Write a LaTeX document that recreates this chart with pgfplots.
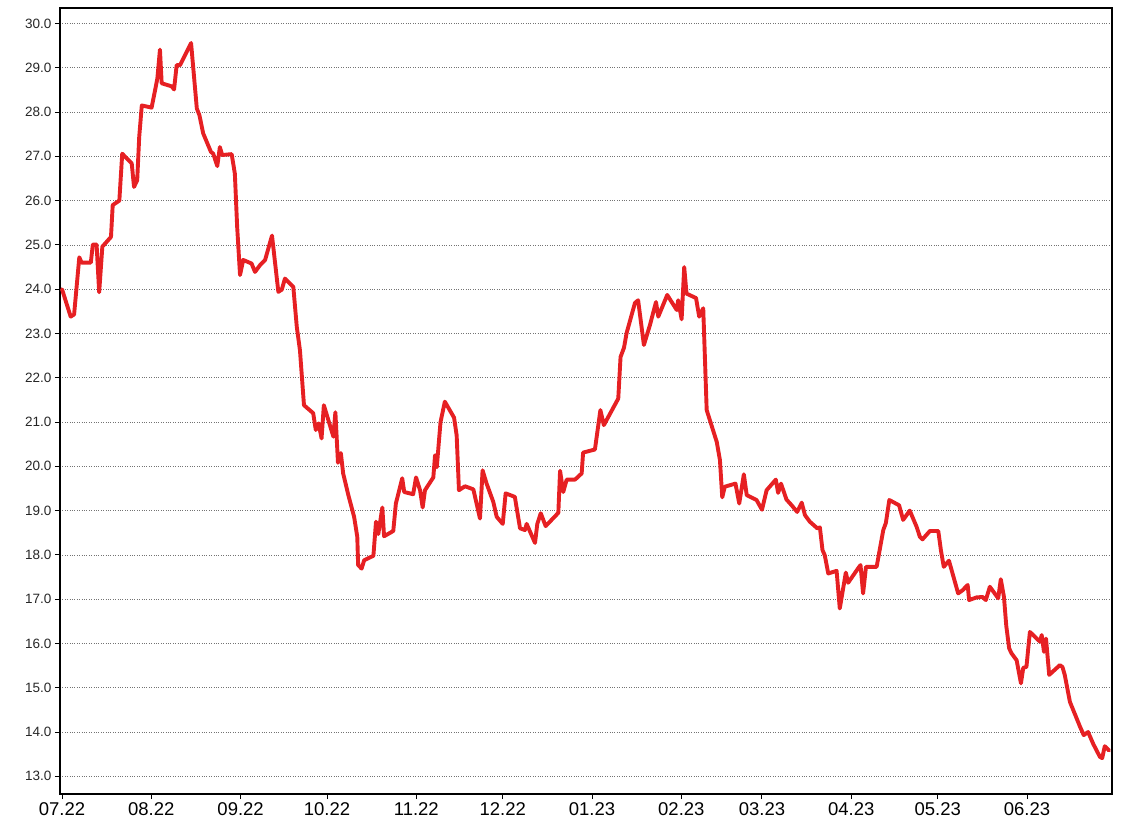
\documentclass[border=0pt]{standalone}
\usepackage{fontspec}
\setmainfont{Liberation Sans}
\usepackage{pgfplots}
\usepackage{pgfplotstable}
\pgfplotsset{compat=1.18}
\definecolor{linered}{RGB}{230,32,35}
\pgfplotstableread{
day val
0 24.00
3.0 23.38
4.2 23.43
6.0 24.72
6.8 24.60
10.0 24.60
10.7 25.01
12.0 25.01
12.9 23.93
14.0 24.96
17.0 25.18
17.6 25.90
19.9 26.00
20.9 27.06
24.2 26.84
25.0 26.31
26.1 26.46
26.8 27.44
27.7 28.15
31.1 28.10
32.3 28.49
33.1 28.76
34.0 29.41
34.6 28.65
38.1 28.58
38.9 28.51
39.8 29.06
41.0 29.06
44.8 29.56
46.8 28.08
47.7 27.93
49.0 27.52
51.7 27.10
52.5 27.06
53.9 26.78
54.8 27.21
55.6 27.03
58.9 27.05
60.0 26.61
60.8 25.41
61.8 24.32
62.9 24.66
65.8 24.58
67.0 24.39
68.7 24.54
70.5 24.66
72.9 25.21
75.1 23.94
76.3 23.99
77.4 24.24
80.3 24.05
81.5 23.15
82.6 22.62
84.0 21.38
87.2 21.20
88.1 20.82
89.1 20.97
90.1 20.63
90.9 21.38
94.2 20.67
94.9 21.22
95.8 20.08
96.8 20.30
97.6 19.84
99.4 19.35
101.4 18.86
102.5 18.41
102.8 17.77
104.0 17.69
104.9 17.88
108.1 17.98
109.0 18.75
109.8 18.47
111.2 19.07
111.8 18.42
115.0 18.54
115.9 19.16
118.1 19.73
118.8 19.42
121.9 19.37
122.9 19.75
124.3 19.46
125.2 19.07
126.0 19.46
128.9 19.75
129.5 20.25
130.1 19.98
131.4 21.00
132.9 21.46
136.1 21.10
137.0 20.70
137.8 19.46
139.9 19.55
142.8 19.48
145.1 18.82
146.0 19.91
147.4 19.61
149.7 19.20
150.9 18.86
153.0 18.70
154.0 19.39
157.2 19.31
159.0 18.60
160.7 18.56
161.3 18.70
164.2 18.27
165.0 18.70
166.2 18.94
167.9 18.65
172.3 18.95
172.9 19.90
174.0 19.42
175.2 19.70
178.1 19.70
180.4 19.84
180.9 20.31
185.0 20.38
186.9 21.27
188.1 20.93
193.1 21.53
193.9 22.47
195.1 22.68
196.0 23.01
198.9 23.69
200.0 23.75
202.0 22.74
204.1 23.19
206.2 23.71
207.0 23.38
210.1 23.87
213.4 23.53
213.9 23.75
215.1 23.32
216.0 24.50
216.8 23.90
220.1 23.80
221.2 23.38
222.6 23.57
223.8 21.27
227.3 20.55
228.4 20.14
229.2 19.30
230.1 19.54
233.8 19.61
235.1 19.16
236.7 19.82
237.7 19.35
241.1 19.24
243.0 19.02
244.6 19.46
247.8 19.70
248.6 19.40
249.6 19.61
251.5 19.25
253.3 19.12
255.2 18.97
256.8 19.18
257.9 18.90
259.6 18.75
262.2 18.60
263.1 18.62
264.0 18.11
264.8 17.99
266.0 17.58
268.9 17.64
270.0 16.79
272.1 17.60
272.9 17.37
276.4 17.70
277.2 17.77
278.1 17.13
279.1 17.73
282.8 17.73
285.1 18.56
286.0 18.72
287.2 19.24
290.6 19.12
292.0 18.79
294.3 19.00
296.7 18.63
297.8 18.41
298.7 18.35
301.3 18.54
304.2 18.54
305.1 18.11
306.1 17.73
307.9 17.87
311.1 17.13
312.6 17.20
314.4 17.32
314.9 16.98
317.5 17.04
319.6 17.05
320.7 16.98
322.1 17.28
325.0 17.02
325.9 17.45
327.0 17.05
327.8 16.40
328.8 15.89
329.6 15.78
331.4 15.62
332.9 15.10
333.7 15.45
334.8 15.47
336.0 16.26
339.5 16.04
340.1 16.19
340.9 15.81
341.6 16.11
342.7 15.29
346.4 15.51
347.3 15.47
348.1 15.29
349.9 14.68
353.4 14.12
354.7 13.93
356.2 14.00
358.0 13.73
360.3 13.44
361.1 13.41
362.0 13.68
363.5 13.58
}\pricedata
\begin{document}
\begin{tikzpicture}
\path[use as bounding box] (0,0) rectangle (1128pt,-836pt);
\begin{axis}[
  at={(60pt,-8pt)}, anchor=north west,
  scale only axis, width=1052pt, height=786pt,
  xmin=-0.7, xmax=364.5, ymin=12.6, ymax=30.35,
  xtick={0,31,62,92,123,153,184,215,243,274,304,335},
  xticklabels={07.22,08.22,09.22,10.22,11.22,12.22,01.23,02.23,03.23,04.23,05.23,06.23},
  ytick={13,14,...,30},
  xtick pos=lower, ytick pos=left,
  tick align=outside, major tick length=5pt,
  tick style={black, line width=1pt},
  axis line style={black, line width=1.1pt},
  yticklabel style={/pgf/number format/.cd, fixed, fixed zerofill, precision=1, assume math mode=true,
    /tikz/.cd, font=\fontsize{13.5}{14}\selectfont, text=black!85},
  xticklabel style={font=\fontsize{18.5}{20}\selectfont, text=black},
  ymajorgrids,
  grid style={black!55, dotted, line width=0.7pt},
]
\addplot[linered, line width=3.9pt, line join=round, line cap=round] table[x=day, y=val] {\pricedata};
\end{axis}
\end{tikzpicture}
\end{document}
